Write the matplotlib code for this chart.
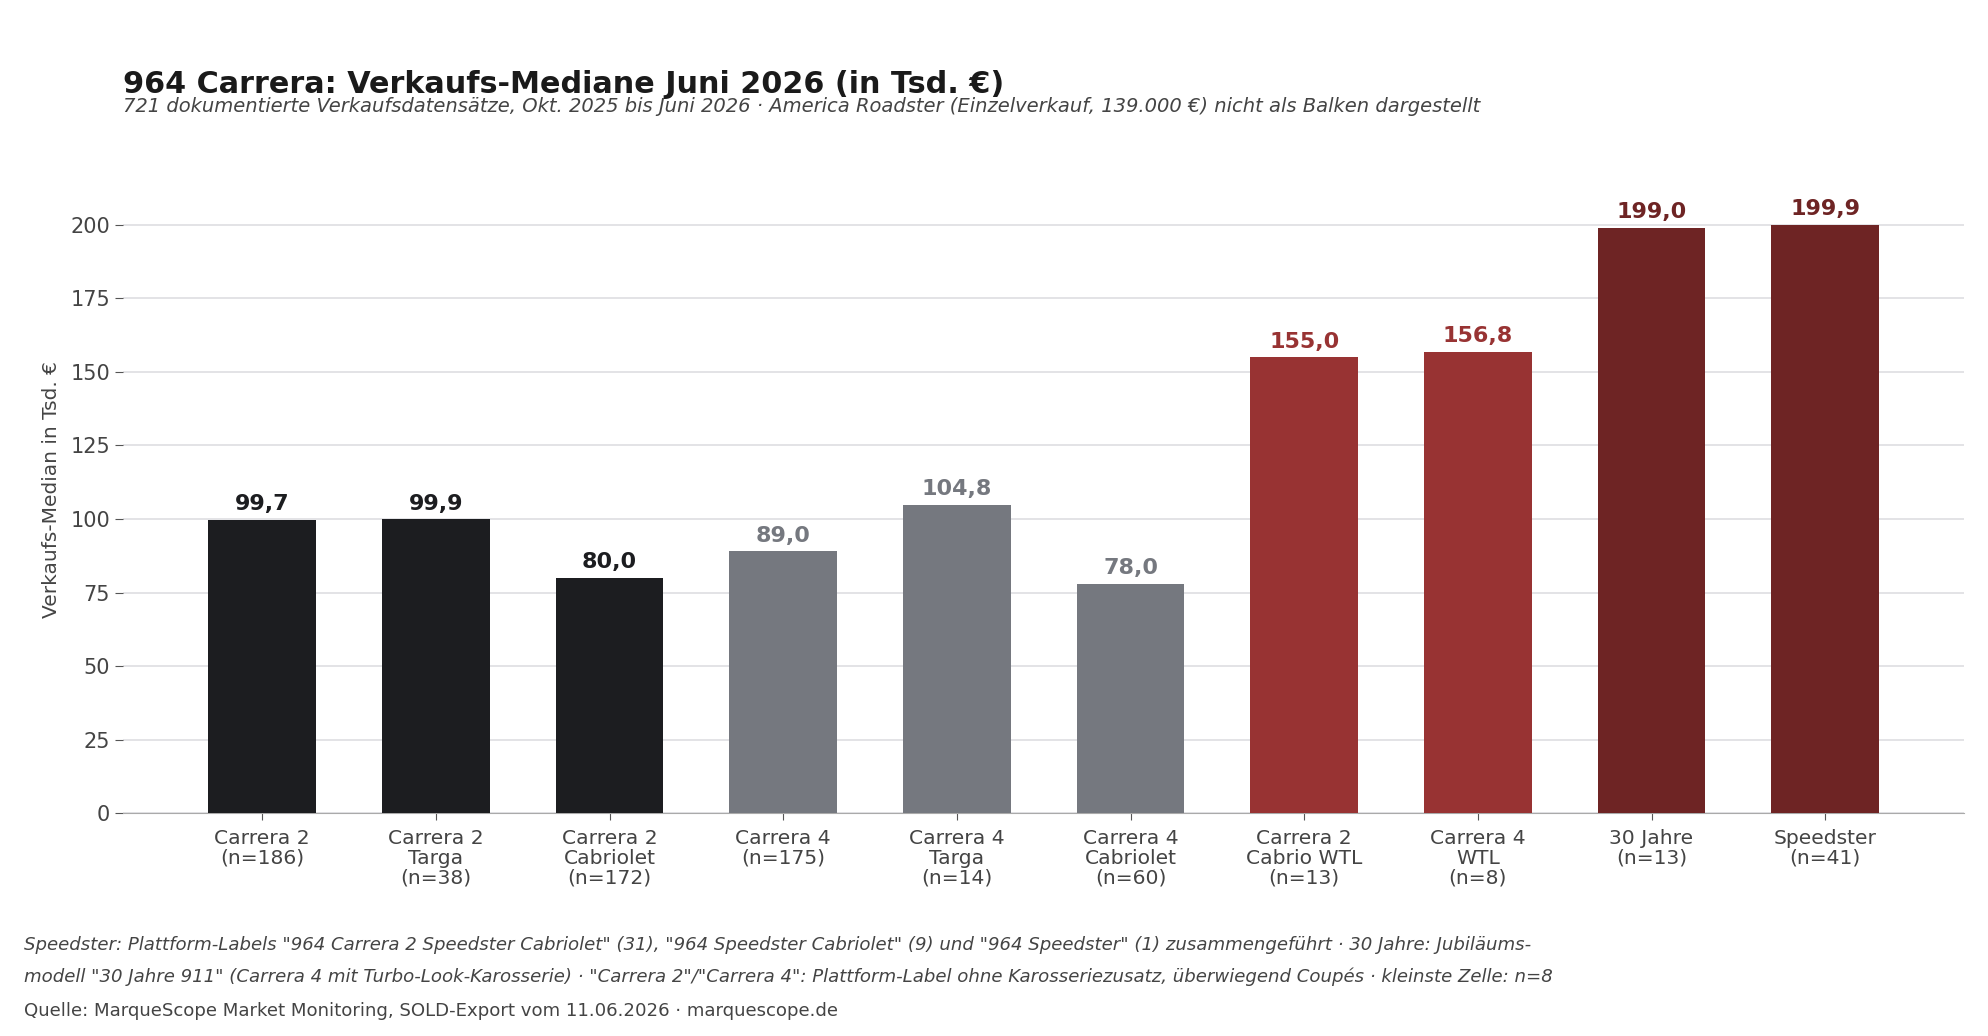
import numpy as np
import matplotlib.pyplot as plt

plt.rcParams['font.family'] = ['DejaVu Sans']

# data
labels = ["Carrera 2\n(n=186)", "Carrera 2\nTarga\n(n=38)", "Carrera 2\nCabriolet\n(n=172)",
          "Carrera 4\n(n=175)", "Carrera 4\nTarga\n(n=14)", "Carrera 4\nCabriolet\n(n=60)",
          "Carrera 2\nCabrio WTL\n(n=13)", "Carrera 4\nWTL\n(n=8)", "30 Jahre\n(n=13)",
          "Speedster\n(n=41)"]
medians = [99.7, 99.9, 80.0, 89.0, 104.8, 78.0, 155.0, 156.8, 199.0, 199.9]
groups = ["c2", "c2", "c2", "c4", "c4", "c4", "wtl", "wtl", "special", "special"]

group_colors = {"c2": "#1c1d20", "c4": "#75787f", "wtl": "#983333", "special": "#6e2424"}

title = "964 Carrera: Verkaufs-Mediane Juni 2026 (in Tsd. €)"
subtitle = ("721 dokumentierte Verkaufsdatensätze, Okt. 2025 bis Juni 2026 · America Roadster "
            "(Einzelverkauf, 139.000 €) nicht als Balken dargestellt")
note1 = ('Speedster: Plattform-Labels "964 Carrera 2 Speedster Cabriolet" (31), "964 Speedster Cabriolet" (9) '
         'und "964 Speedster" (1) zusammengeführt · 30 Jahre: Jubiläums-')
note2 = ('modell "30 Jahre 911" (Carrera 4 mit Turbo-Look-Karosserie) · "Carrera 2"/"Carrera 4": '
         'Plattform-Label ohne Karosseriezusatz, überwiegend Coupés · kleinste Zelle: n=8')
source = "Quelle: MarqueScope Market Monitoring, SOLD-Export vom 11.06.2026 · marquescope.de"

fig = plt.figure(figsize=(19.88, 10.36), dpi=100)
ax = fig.add_axes([0.062, 0.215, 0.926, 0.625])

x = np.arange(len(medians))
colors = [group_colors[g] for g in groups]
bars = ax.bar(x, medians, width=0.62, color=colors, zorder=3)

for xi, v, c in zip(x, medians, colors):
    ax.annotate(f"{v:.1f}".replace(".", ","), (xi, v), xytext=(0, 4), textcoords="offset points",
                ha="center", va="bottom", fontsize=16, fontweight="bold", color=c)

ax.set_xlim(-0.8, len(medians) - 0.2)
ax.set_ylim(0, 220)
ax.set_yticks(np.arange(0, 201, 25))
ax.set_xticks(x)
ax.set_xticklabels(labels, fontsize=14.6, color="#444444", linespacing=1.05)
ax.tick_params(axis="y", labelsize=15, labelcolor="#444444", color="#555555", length=6)
ax.tick_params(axis="x", color="#555555", length=5, pad=6.5)
ax.yaxis.grid(True, color="#dedee2", linewidth=1.2, zorder=0)
ax.set_axisbelow(True)
for s in ["top", "right", "left"]:
    ax.spines[s].set_visible(False)
ax.spines["bottom"].set_color("#aaaaaa")
ax.set_ylabel("Verkaufs-Median in Tsd. €", fontsize=14.5, color="#444444", labelpad=7)

fig.text(0.062, 0.910, title, fontsize=21.8, fontweight="bold", color="#1a1a1a", va="baseline")
fig.text(0.062, 0.892, subtitle, fontsize=14, style="italic", color="#444444", va="baseline")

fig.text(0.012, 0.088, note1, fontsize=13.1, style="italic", color="#444444", va="center")
fig.text(0.012, 0.057, note2, fontsize=13.1, style="italic", color="#444444", va="center")
fig.text(0.012, 0.024, source, fontsize=13.1, color="#444444", va="center")

fig.savefig("out.png", dpi=100)
